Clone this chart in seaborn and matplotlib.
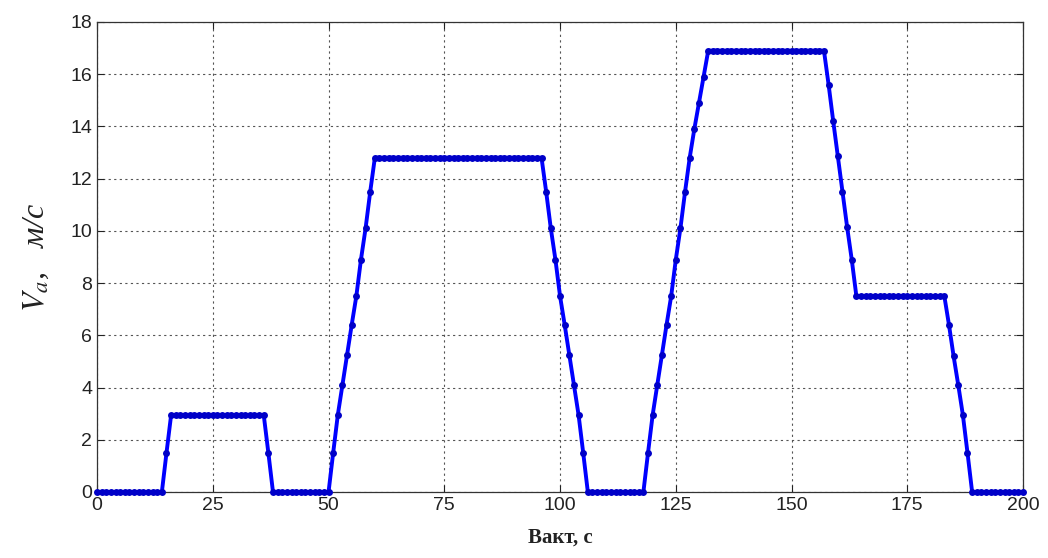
import numpy as np
import pandas as pd
import matplotlib
matplotlib.use("Agg")
import matplotlib.pyplot as plt
import seaborn as sns

# time samples, 1 s step
time_s = list(range(0, 201))
# velocity values
velocity = [
    0, 0, 0, 0, 0, 0, 0, 0, 0, 0,
    0, 0, 0, 0, 0, 1.5, 2.95, 2.95, 2.95, 2.95,
    2.95, 2.95, 2.95, 2.95, 2.95, 2.95, 2.95, 2.95, 2.95, 2.95,
    2.95, 2.95, 2.95, 2.95, 2.95, 2.95, 2.95, 1.5, 0, 0,
    0, 0, 0, 0, 0, 0, 0, 0, 0, 0,
    0, 1.5, 2.95, 4.1, 5.25, 6.4, 7.5, 8.9, 10.1, 11.5,
    12.8, 12.8, 12.8, 12.8, 12.8, 12.8, 12.8, 12.8, 12.8, 12.8,
    12.8, 12.8, 12.8, 12.8, 12.8, 12.8, 12.8, 12.8, 12.8, 12.8,
    12.8, 12.8, 12.8, 12.8, 12.8, 12.8, 12.8, 12.8, 12.8, 12.8,
    12.8, 12.8, 12.8, 12.8, 12.8, 12.8, 12.8, 11.5, 10.1, 8.9,
    7.5, 6.4, 5.25, 4.1, 2.95, 1.5, 0, 0, 0, 0,
    0, 0, 0, 0, 0, 0, 0, 0, 0, 1.5,
    2.95, 4.1, 5.25, 6.4, 7.5, 8.9, 10.1, 11.5, 12.8, 13.9,
    14.9, 15.9, 16.9, 16.9, 16.9, 16.9, 16.9, 16.9, 16.9, 16.9,
    16.9, 16.9, 16.9, 16.9, 16.9, 16.9, 16.9, 16.9, 16.9, 16.9,
    16.9, 16.9, 16.9, 16.9, 16.9, 16.9, 16.9, 16.9, 15.6, 14.2,
    12.85, 11.5, 10.15, 8.9, 7.5, 7.5, 7.5, 7.5, 7.5, 7.5,
    7.5, 7.5, 7.5, 7.5, 7.5, 7.5, 7.5, 7.5, 7.5, 7.5,
    7.5, 7.5, 7.5, 7.5, 6.4, 5.2, 4.1, 2.95, 1.5, 0,
    0, 0, 0, 0, 0, 0, 0, 0, 0, 0, 0,
]
x_ticks = [0, 25, 50, 75, 100, 125, 150, 175, 200]
y_ticks = [0, 2, 4, 6, 8, 10, 12, 14, 16, 18]

df = pd.DataFrame({"t": time_s, "v": velocity})

sns.set_theme(style="white")
plt.rcParams["font.family"] = ["Liberation Sans", "DejaVu Sans"]
plt.rcParams["mathtext.fontset"] = "stix"

fig = plt.figure(figsize=(10.48, 5.58), dpi=100)
ax = fig.add_axes([0.0926, 0.1183, 0.8836, 0.8423])

sns.lineplot(data=df, x="t", y="v", ax=ax, color="#0000ff", linewidth=2.8,
             marker="o", markersize=5, markeredgewidth=0,
             markerfacecolor="#0000c8", clip_on=False, zorder=3)

ax.set_xlim(0, 200)
ax.set_ylim(0, 18)
ax.set_xticks(x_ticks)
ax.set_yticks(y_ticks)
ax.tick_params(direction="in", length=5, width=0.8, labelsize=14,
               colors="#222222", top=True, right=True, bottom=True, left=True)
ax.grid(True, color="#555555", linestyle=(0, (2, 3)), linewidth=0.8)
for s in ax.spines.values():
    s.set_visible(True)
    s.set_color("#333333")
    s.set_linewidth(0.9)

ax.set_xlabel("Вакт, с", family=["Liberation Serif"], fontweight="bold",
              fontsize=15, color="#222222", labelpad=10)
ax.set_ylabel(r"$V_a$,   м/с", family=["Liberation Serif"], fontstyle="italic",
              fontsize=23, color="#222222", labelpad=14)

fig.savefig("out.png", dpi=100, facecolor="white")
